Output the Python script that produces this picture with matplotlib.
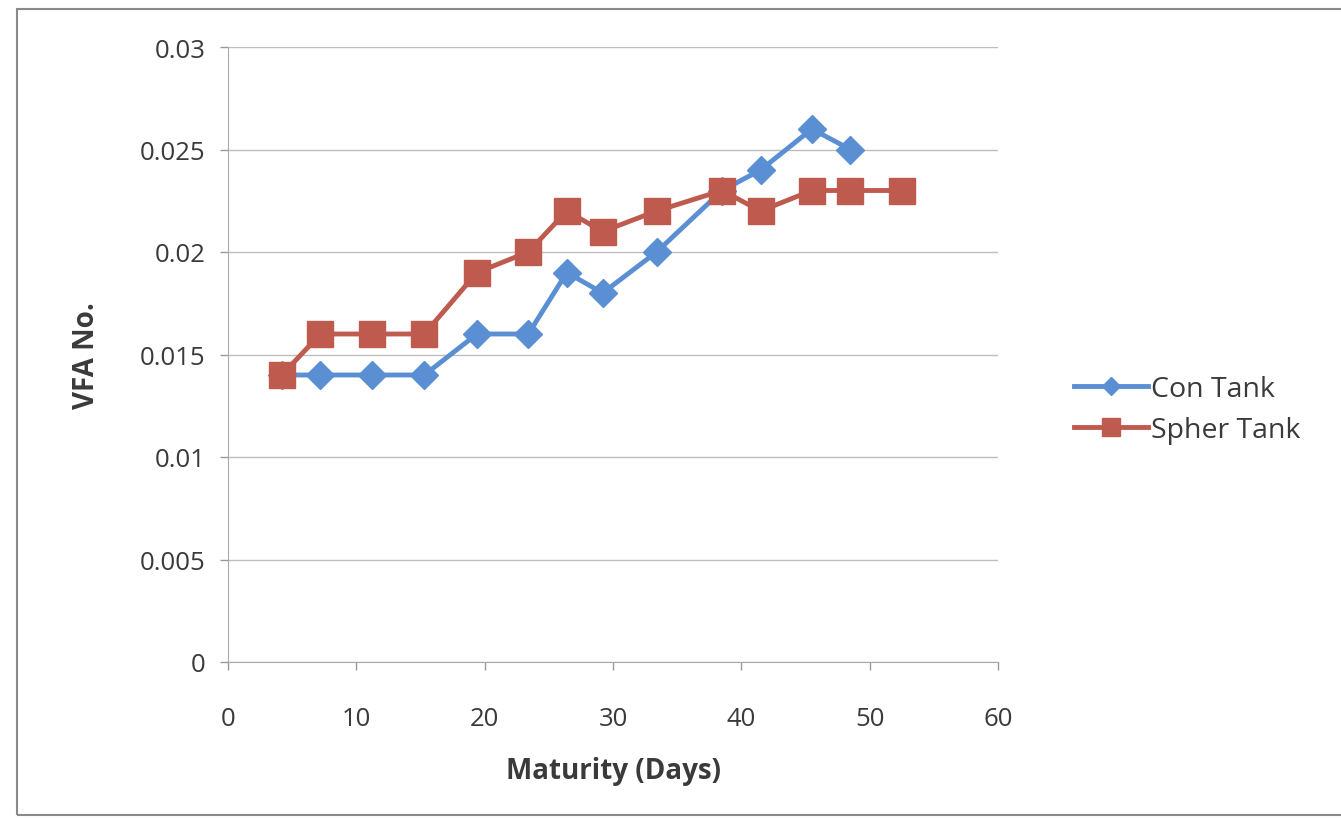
import matplotlib.pyplot as plt
from matplotlib.patches import Rectangle

# sampling days for each tank
con_days = [4.2, 7.2, 11.2, 15.3, 19.4, 23.4, 26.4, 29.2, 33.4, 38.5, 41.5, 45.5, 48.5]
con_vfa = [0.014, 0.014, 0.014, 0.014, 0.016, 0.016, 0.019, 0.018, 0.020, 0.023, 0.024, 0.026, 0.025]

spher_days = [4.2, 7.2, 11.2, 15.3, 19.4, 23.4, 26.4, 29.2, 33.4, 38.5, 41.5, 45.5, 48.5, 52.5]
spher_vfa = [0.014, 0.016, 0.016, 0.016, 0.019, 0.020, 0.022, 0.021, 0.022, 0.023, 0.022, 0.023, 0.023, 0.023]

x_ticks = [0, 10, 20, 30, 40, 50, 60]
y_ticks = [0, 0.005, 0.01, 0.015, 0.02, 0.025, 0.03]
y_labels = ["0", "0.005", "0.01", "0.015", "0.02", "0.025", "0.03"]

blue = "#5b8fd3"
red = "#bf5a4e"
txt = "#3a3a3a"

plt.rcParams["font.family"] = ["Open Sans", "DejaVu Sans"]

fig = plt.figure(figsize=(13.41, 8.20), dpi=100)
# outer chart frame (runs off the right edge)
fig.patches.append(Rectangle((17 / 1341, 4 / 820), 1340 / 1341, 806 / 820,
                             transform=fig.transFigure, fill=False,
                             edgecolor="#8a8a8a", linewidth=1.5))

ax = fig.add_axes([228 / 1341, 157 / 820, 770 / 1341, 615 / 820])

ax.plot(con_days, con_vfa, color=blue, linewidth=3.5, marker="D",
        markersize=14, markeredgecolor=blue, label="Con Tank", zorder=3)
ax.plot(spher_days, spher_vfa, color=red, linewidth=3.5, marker="s",
        markersize=19, markeredgecolor=red, label="Spher Tank", zorder=3)

ax.set_xlim(0, 60)
ax.set_ylim(0, 0.03)
ax.set_xticks(x_ticks)
ax.set_yticks(y_ticks)
ax.set_yticklabels(y_labels)
ax.tick_params(axis="both", labelsize=18.5, colors="#999999", labelcolor=txt,
               length=6, width=1)
ax.tick_params(axis="x", pad=26)
ax.tick_params(axis="y", pad=10)

ax.grid(axis="y", color="#bdbdbd", linewidth=1)
ax.set_axisbelow(True)
for side in ["top", "right"]:
    ax.spines[side].set_visible(False)
for side in ["left", "bottom"]:
    ax.spines[side].set_color("#aaaaaa")

ax.set_xlabel("Maturity (Days)", fontsize=20, fontweight="bold", color=txt, labelpad=18)
ax.set_ylabel("VFA No.", fontsize=20, fontweight="bold", color=txt, labelpad=28)

ax.legend(loc="center left", bbox_to_anchor=(1.065, 0.41), frameon=False,
          fontsize=20.5, handlelength=2.6, labelspacing=0.45, handletextpad=0.1,
          markerscale=0.65, labelcolor=txt)

fig.savefig("out.png", dpi=100, facecolor="white")
